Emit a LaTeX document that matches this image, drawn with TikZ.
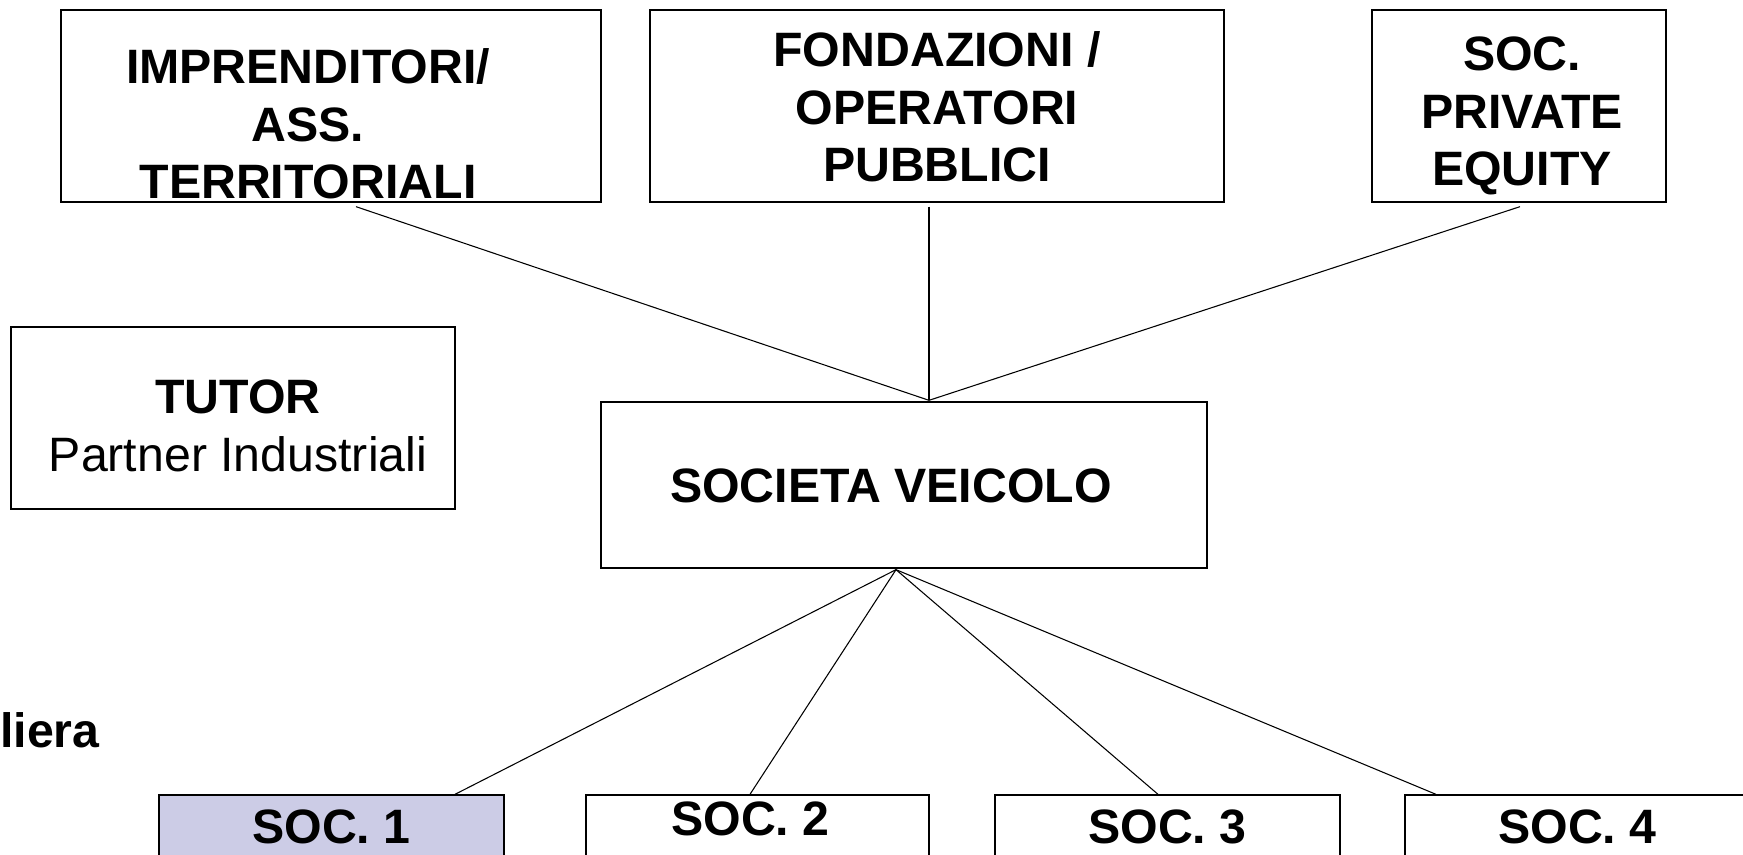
\documentclass[tikz,border=0pt]{standalone}
\usepackage{fontspec}
\setmainfont{Liberation Sans}
\usepackage{xcolor}
\usepackage{tikz}
\usetikzlibrary{calc}

\definecolor{socfill}{RGB}{204,204,230}

\tikzset{
  box/.style={draw, line width=1pt, inner sep=0pt},
  txt/.style={align=center, inner sep=0pt, font=\fontsize{36.2}{43}\selectfont\bfseries},
  link/.style={draw, line width=0.8pt}
}

\begin{document}
\begin{tikzpicture}[x=0.75pt,y=0.75pt,yscale=-1,xscale=1]
\path[use as bounding box, clip] (0,0) rectangle (1743,855);

%Shape: Rectangle [soci in alto]
\node[box, minimum width=405pt, minimum height=144pt] (imp) at (331,106) {};
\node[box, minimum width=430.5pt, minimum height=144pt] (fond) at (937,106) {};
\node[box, minimum width=220.5pt, minimum height=144pt] (pe) at (1519,106) {};
%Shape: Rectangle [tutor]
\node[box, minimum width=333pt, minimum height=136.5pt] (tutor) at (233,418) {};
%Shape: Rectangle [veicolo]
\node[box, minimum width=454.5pt, minimum height=124.5pt] (veic) at (904,485) {};
%Shape: Rectangle [partecipate]
\node[box, fill=socfill, minimum width=258.75pt, minimum height=82.5pt] (soc1) at (331.5,850) {};
\node[box, minimum width=257.25pt, minimum height=82.5pt] (soc2) at (757.5,850) {};
\node[box, minimum width=258.75pt, minimum height=82.5pt] (soc3) at (1167.5,850) {};
\node[box, minimum width=258.75pt, minimum height=82.5pt] (soc4) at (1577.5,850) {};

%Straight Lines [verso il veicolo]
\coordinate (vtop) at ($(veic.north)+(25,-1)$);
\draw[link] ($(imp.south)+(25,4)$) -- (vtop);
\draw[link] ($(fond.south)+(-8,4)$) -- (vtop);
\draw[link] ($(pe.south)+(1,4)$) -- (vtop);
%Straight Lines [verso le societa]
\coordinate (vbot) at ($(veic.south)+(-8,1)$);
\draw[link] (vbot) -- ($(soc1.north)+(123.5,0)$);
\draw[link] (vbot) -- ($(soc2.north)+(-7.5,0)$);
\draw[link] (vbot) -- ($(soc3.north)+(-9.5,0)$);
\draw[link] (vbot) -- ($(soc4.north)+(-141.5,0)$);

% Text Node
\node[txt] (impT) at ($(imp.center)+(-23,18)$) {IMPRENDITORI/\\ASS.\\TERRITORIALI};
% Text Node
\node[txt] (fondT) at ($(fond.center)+(0,1)$) {FONDAZIONI /\\OPERATORI\\PUBBLICI};
% Text Node
\node[txt] (peT) at ($(pe.center)+(3,10)$) {SOC.\\PRIVATE\\EQUITY};
% Text Node
\node[txt] (tutorT) at ($(tutor.center)+(5,8)$) {TUTOR\\\mdseries Partner Industriali};
% Text Node
\node[txt] (veicT) at ($(veic.center)+(-13,1)$) {SOCIETA VEICOLO};
% Text Node
\node[txt] (soc1T) at ($(soc1.north)+(0,33)$) {SOC. 1};
\node[txt] (soc2T) at ($(soc2.north)+(-7,25)$) {SOC. 2};
\node[txt] (soc3T) at ($(soc3.north)+(0,33)$) {SOC. 3};
\node[txt] (soc4T) at ($(soc4.north)+(0,33)$) {SOC. 4};
% Text Node
\node[txt, anchor=west] (filT) at (0,730) {liera};
\end{tikzpicture}
\end{document}
